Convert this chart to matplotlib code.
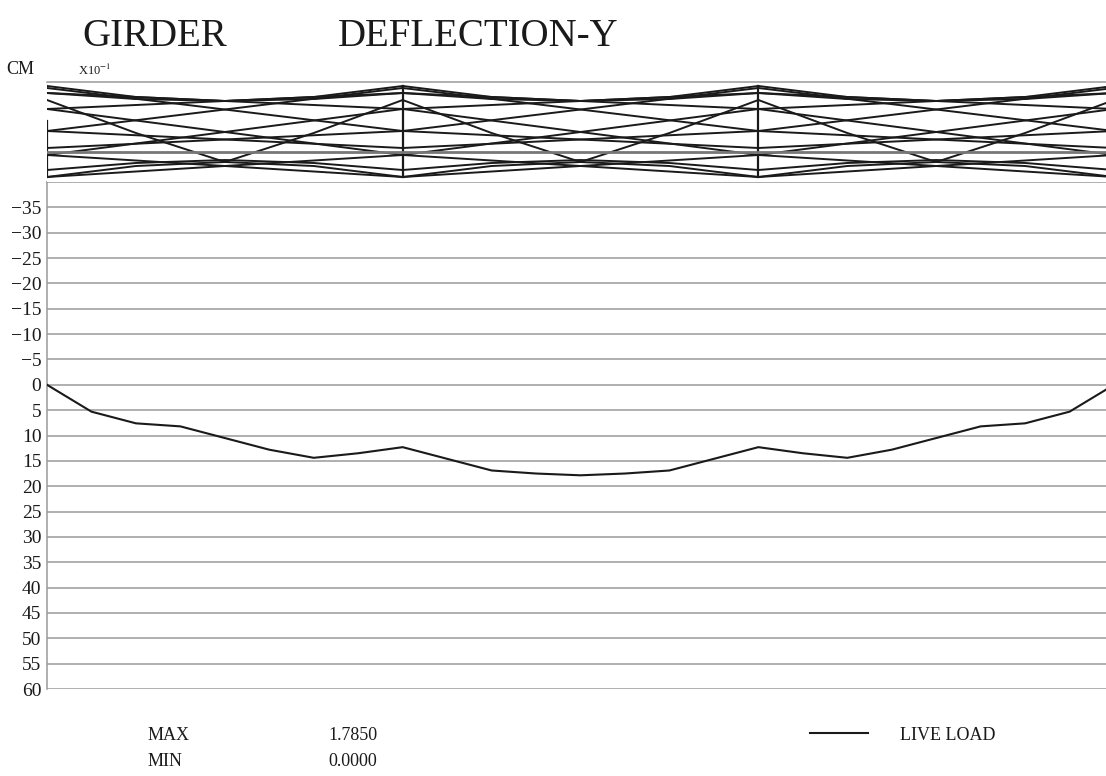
"""
Girder deflection-Y under live load, with the girder elevation drawn above.
Output: out.png
"""

import matplotlib
matplotlib.use("Agg")
import matplotlib.pyplot as plt
import numpy as np

plt.rcParams["font.family"] = ["Liberation Serif", "DejaVu Serif"]
plt.rcParams["mathtext.fontset"] = "stix"

# ── data ─────────────────────────────────────────────────────────────────────
# deflection at each girder node (x10^-1 cm), positive = downward
nodes = np.arange(25)
deflection = [0.0, 5.3, 7.6, 8.2, 10.5, 12.8, 14.4, 13.5, 12.3, 14.6, 16.9, 17.5,
              17.85, 17.5, 16.9, 14.6, 12.3, 13.5, 14.4, 12.8, 10.5, 8.2, 7.6, 5.3, 0.0]
y_ticks = [-35, -30, -25, -20, -15, -10, -5, 0, 5, 10, 15, 20, 25,
           30, 35, 40, 45, 50, 55, 60]

# girder elevation (heights in box units, 0 = top, 100 = bottom)
section_nodes = [0, 8, 16, 24]
quarter_pts = [0.0, 0.25, 0.5, 0.75, 1.0]             # fraction of span
top_chords = [[4, 15, 19, 15, 4], [11, 17, 19, 17, 11]]
bottom_chords = [[95, 84, 80, 84, 95], [88, 81, 78, 81, 88]]
v_members = [[18, 51, 80, 51, 18]]
diagonals = [(6, 49), (27, 11), (27, 73), (49, 66), (73, 95)]   # (left, right)
post_top, post_bot, end_post_top = 4, 95, 39
base_line = 70

MAX_VAL, MIN_VAL = "1.7850", "0.0000"

# ── figure ───────────────────────────────────────────────────────────────────
W, H = 1106, 776
fig = plt.figure(figsize=(W / 100, H / 100), dpi=100)
fig.patch.set_facecolor("white")

GRID = "#9a9a9a"
INK = "#1a1a1a"
node_px = 44.46
x_hi = (W - 47) / node_px

ax = fig.add_axes([47 / W, (H - 689) / H, (W - 47) / W, (689 - 182) / H])
ax_t = fig.add_axes([47 / W, (H - 182) / H, (W - 47) / W, 100 / H])

# main deflection plot
ax.plot(nodes, deflection, color=INK, lw=1.5, zorder=3)
for t in y_ticks:
    ax.axhline(t, color=GRID, lw=1.1, zorder=1)
ax.set_ylim(60, -40)
ax.set_xlim(0, x_hi)
ax.set_yticks(y_ticks)
ax.set_yticklabels([str(t).replace("-", "\u2212") for t in y_ticks])
ax.set_xticks([])
ax.tick_params(axis="y", length=0, pad=4, labelsize=14, colors=INK)
for s in ["right", "bottom"]:
    ax.spines[s].set_visible(False)
for s in ["left", "top"]:
    ax.spines[s].set_color(GRID)
    ax.spines[s].set_linewidth(1.1)

# girder elevation above
for i in range(len(section_nodes) - 1):
    x0, x1 = section_nodes[i], section_nodes[i + 1]
    xs = [x0 + f * (x1 - x0) for f in quarter_pts]
    for ch in top_chords + bottom_chords + v_members:
        ax_t.plot(xs, ch, color=INK, lw=1.4)
    for a, b in diagonals:
        ax_t.plot([x0, x1], [a, b], color=INK, lw=1.4)
        ax_t.plot([x0, x1], [b, a], color=INK, lw=1.4)
for k, xn in enumerate(section_nodes):
    top = end_post_top if k == 0 else post_top
    ax_t.plot([xn, xn], [top, post_bot], color=INK, lw=1.6)
ax_t.axhline(base_line, color="#777777", lw=2.0)
ax_t.set_xlim(0, x_hi)
ax_t.set_ylim(100, 0)
ax_t.set_xticks([])
ax_t.set_yticks([])
for s in ["left", "right", "bottom"]:
    ax_t.spines[s].set_visible(False)
ax_t.spines["top"].set_color(GRID)
ax_t.spines["top"].set_linewidth(1.1)

# titles and labels
fig.text(82 / W, 1 - 46 / H, "GIRDER", fontsize=28, color=INK, va="baseline")
fig.text(338 / W, 1 - 46 / H, "DEFLECTION-Y", fontsize=28, color=INK, va="baseline")
fig.text(6 / W, 1 - 70 / H, "CM", fontsize=13, color=INK, va="center")
fig.text(78 / W, 1 - 70 / H, "X10$^{-1}$", fontsize=9, color=INK, va="center")

# footer: extrema and legend
fig.text(148 / W, 1 - 735 / H, "MAX", fontsize=13, color=INK, va="center")
fig.text(148 / W, 1 - 762 / H, "MIN", fontsize=13, color=INK, va="center")
fig.text(328 / W, 1 - 735 / H, MAX_VAL, fontsize=13, color=INK, va="center")
fig.text(328 / W, 1 - 762 / H, MIN_VAL, fontsize=13, color=INK, va="center")
fig.add_artist(plt.Line2D([810 / W, 868 / W], [1 - 733 / H, 1 - 733 / H],
                          color=INK, lw=1.5, transform=fig.transFigure))
fig.text(900 / W, 1 - 735 / H, "LIVE LOAD", fontsize=13, color=INK, va="center")

fig.savefig("out.png", dpi=100, facecolor="white")
